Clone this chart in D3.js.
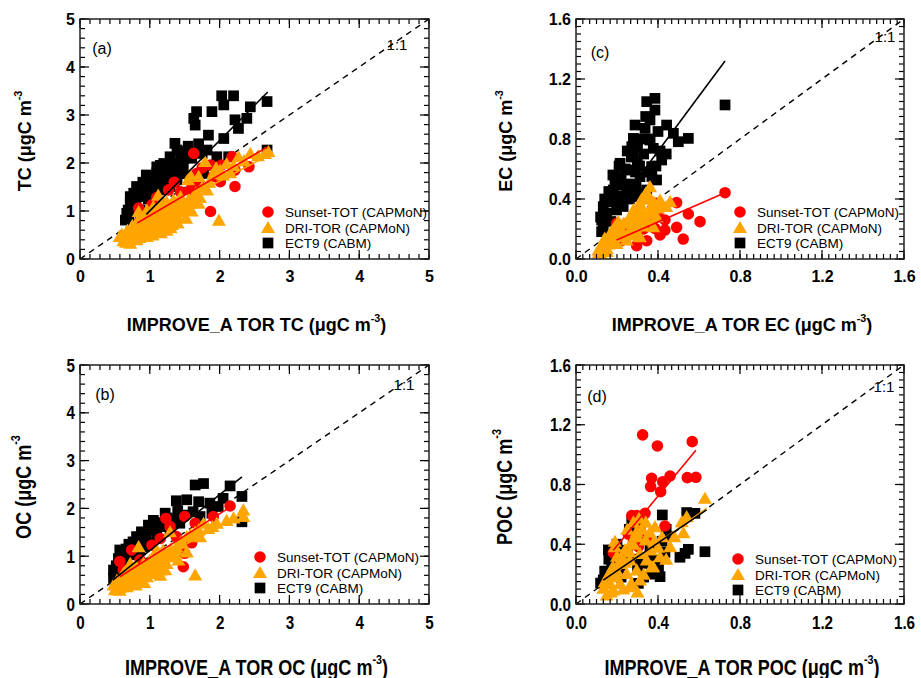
<!DOCTYPE html>
<html><head><meta charset="utf-8">
<script src="https://cdn.jsdelivr.net/npm/d3@7"></script>
<style>
body{margin:0;background:#fff;}
svg{display:block;}
</style></head>
<body>
<svg id="chart" width="921" height="678"></svg>
<script>
// ---------- DATA ----------
const seriesNames = ["Sunset-TOT (CAPMoN)", "DRI-TOR (CAPMoN)", "ECT9 (CABM)"];
const panelLetters = ["(a)", "(c)", "(b)", "(d)"];
const xTicksTC = [0,1,2,3,4,5];
const xTicksEC = [0,0.4,0.8,1.2,1.6];

// Panel (a) TC
const tcECT9 = [[2.68,3.28],[2.20,3.40],[2.03,3.40],[2.06,3.21],[2.44,3.17],[1.67,3.07],[1.89,3.07],[1.63,2.93],[1.65,2.79],[2.22,2.90],[2.39,2.93],[2.27,2.72],[1.84,2.58],[2.06,2.51],[1.36,2.41],[1.39,2.27],[1.53,2.24],[1.82,2.27],[1.96,2.13],[2.13,2.13],[2.68,2.27],[1.29,2.13],[1.44,2.06],[1.20,1.99],[1.10,1.92],[1.24,1.85],[1.44,1.78],[1.58,1.72],[1.77,1.78],[1.00,1.72],[1.15,1.72],[0.81,1.51],[0.96,1.51],[1.10,1.58],[0.77,1.37],[0.91,1.30],[1.05,1.40],[1.29,1.51],[0.72,1.16],[0.86,1.02],[0.67,0.95],[0.65,0.81],[0.69,1.02],[1.48,1.92],[1.34,1.99],[1.63,1.58],[1.20,1.44],[1.39,1.65],
  [0.70,0.88],[0.75,1.10],[0.80,1.25],[0.85,1.45],[0.90,1.60],[0.95,1.40],[1.00,1.55],[1.05,1.65],[1.10,1.80],[1.15,1.95],[1.25,1.70],[1.30,1.80],[1.35,1.60],[1.40,1.95],[1.50,2.10],[1.55,2.35],[1.60,2.10],[1.70,2.40],[1.75,2.20],[0.80,1.20],[0.88,1.35],[0.98,1.25],[1.08,1.30],[0.72,1.30],[0.95,1.75],[1.18,1.55],[1.12,1.48]];
const tcSunset = [[1.63,2.20],[2.18,2.13],[1.87,1.96],[2.03,1.96],[2.22,1.85],[2.42,1.92],[1.67,1.78],[1.70,1.58],[2.01,1.61],[2.22,1.51],[1.27,1.44],[1.44,1.40],[1.03,1.13],[1.17,1.16],[0.84,1.06],[1.67,1.23],[1.87,0.99],[0.86,0.81],[1.00,1.02],[1.44,1.19],[1.58,1.44],[1.91,1.72],[1.10,1.28],[1.35,1.60],[0.95,0.90],[1.75,1.90]];
const tcDRI = [[2.70,2.24],[2.65,2.20],[2.44,2.20],[2.27,2.13],[1.79,2.03],[2.10,1.99],[2.01,1.85],[1.91,1.78],[1.58,1.75],[1.70,1.72],[1.55,1.65],[1.82,1.44],[1.12,1.33],[1.70,1.16],[1.44,1.30],[1.34,1.23],[1.24,1.19],[1.15,1.16],[1.05,1.09],[0.96,1.02],[0.84,0.99],[1.99,0.81],[1.44,1.09],[1.34,1.02],[1.24,0.95],[1.15,0.88],[1.05,0.81],[0.96,0.74],[0.86,0.67],[0.77,0.60],[0.67,0.53],[0.65,0.43],[0.72,0.33],[0.81,0.40],[0.96,0.47],[1.10,0.60],[1.20,0.67],[1.29,0.74],[1.39,0.88],[1.48,1.02],[1.58,1.16],[1.00,0.60],[0.91,0.53],[1.24,0.60],[1.15,0.74],[1.34,0.81],[0.72,0.47],[0.81,0.53],[0.57,0.47],
  [0.62,0.38],[0.70,0.42],[0.78,0.46],[0.85,0.45],[0.90,0.62],[0.95,0.55],[1.02,0.68],[1.08,0.72],[1.12,0.66],[1.18,0.80],[1.22,0.85],[1.27,0.90],[1.32,0.72],[1.36,0.95],[1.42,0.98],[1.46,1.10],[1.52,1.08],[1.56,1.25],[1.62,1.30],[1.66,1.38],[1.75,1.50],[0.68,0.60],[0.75,0.70],[0.82,0.78],[0.88,0.85],[0.93,0.90],[1.00,0.85],[1.06,0.95],[1.12,1.00],[1.20,1.05],[1.28,1.10],[1.35,1.15],[0.60,0.52],[0.66,0.35],[0.74,0.55],[0.98,0.65],[1.04,0.50],[1.16,0.55],[1.30,0.65],[1.40,0.75],[1.52,0.85],[1.60,1.00],[1.72,1.28],[1.85,1.60],[2.05,1.75],[2.20,1.95],[2.35,2.05],[2.55,2.15],[1.95,1.90],[2.15,1.80]];
const tcFitECT9 = [[0.95,0.93],[2.69,3.48]];
const tcFitSunset = [[0.82,0.75],[2.68,2.33]];
const tcFitDRI = [[0.60,0.55],[2.75,2.20]];

// Panel (c) EC
const ecECT9 = [[0.727,1.027],[0.385,1.071],[0.345,1.049],[0.385,0.993],[0.361,0.927],[0.288,0.893],[0.337,0.871],[0.442,0.893],[0.499,0.782],[0.548,0.804],[0.475,0.838],[0.361,0.793],[0.280,0.804],[0.272,0.749],[0.377,0.738],[0.418,0.660],[0.280,0.682],[0.215,0.638],[0.299,0.649],[0.369,0.616],[0.393,0.527],[0.263,0.593],[0.312,0.549],[0.215,0.527],[0.293,0.493],[0.182,0.460],[0.247,0.438],[0.163,0.393],[0.133,0.349],[0.150,0.304],[0.125,0.260],[0.133,0.216],[0.125,0.182],[0.215,0.371],[0.280,0.416],[0.198,0.327],[0.345,0.460],[0.231,0.493],
  [0.14,0.30],[0.16,0.45],[0.18,0.38],[0.20,0.42],[0.22,0.55],[0.24,0.60],[0.26,0.50],[0.27,0.68],[0.29,0.58],[0.31,0.62],[0.33,0.70],[0.35,0.58],[0.37,0.55],[0.39,0.62],[0.41,0.72],[0.32,0.80],[0.30,0.75],[0.34,0.95],[0.40,0.85],[0.44,0.70],[0.17,0.25],[0.19,0.50],[0.23,0.35],[0.26,0.40],[0.28,0.48],[0.31,0.44],[0.21,0.62],[0.25,0.72],[0.36,0.80],[0.14,0.40],[0.12,0.28],[0.18,0.56]];
const ecSunset = [[0.727,0.442],[0.491,0.376],[0.548,0.300],[0.605,0.249],[0.434,0.260],[0.491,0.211],[0.434,0.193],[0.523,0.133],[0.385,0.204],[0.345,0.122],[0.296,0.089],[0.198,0.238],[0.393,0.371],[0.361,0.238],[0.255,0.182],[0.402,0.282],[0.30,0.15],[0.22,0.12],[0.33,0.20],[0.41,0.16]];
const ecDRI = [[0.361,0.482],[0.353,0.427],[0.459,0.382],[0.410,0.393],[0.312,0.371],[0.377,0.349],[0.280,0.327],[0.328,0.304],[0.345,0.260],[0.263,0.282],[0.231,0.238],[0.206,0.249],[0.182,0.193],[0.215,0.171],[0.166,0.149],[0.133,0.104],[0.109,0.060],[0.150,0.071],[0.263,0.193],[0.296,0.238],[0.393,0.282],[0.377,0.216],[0.312,0.149],[0.247,0.127],[0.198,0.104],[0.125,0.027],[0.288,0.216],[0.361,0.327],
  [0.11,0.04],[0.13,0.08],[0.14,0.14],[0.16,0.10],[0.18,0.13],[0.20,0.16],[0.22,0.20],[0.24,0.24],[0.26,0.26],[0.28,0.30],[0.30,0.34],[0.32,0.40],[0.34,0.44],[0.36,0.40],[0.38,0.38],[0.40,0.34],[0.27,0.16],[0.23,0.15],[0.29,0.19],[0.33,0.22],[0.35,0.30],[0.31,0.27],[0.19,0.22],[0.17,0.18],[0.15,0.05],[0.42,0.36],[0.44,0.35]];
const ecFitECT9 = [[0.20,0.35],[0.727,1.32]];
const ecFitSunset = [[0.198,0.127],[0.727,0.442]];
const ecFitDRI = [[0.12,0.08],[0.40,0.40]];

// Panel (b) OC
const ocECT9 = [[1.77,2.52],[1.65,2.49],[2.15,2.47],[2.32,2.25],[2.05,2.21],[1.38,2.16],[1.53,2.18],[1.70,2.14],[1.86,2.11],[1.98,2.04],[2.32,1.72],[1.22,1.90],[1.48,1.86],[1.62,1.93],[0.98,1.65],[1.15,1.62],[0.88,1.51],[1.10,1.41],[0.81,1.41],[0.57,1.13],[0.72,1.03],[0.62,0.96],[0.86,1.13],[1.00,1.27],[0.48,0.71],[0.48,0.54],[1.29,1.55],[1.43,1.69],[1.72,1.83],[1.89,1.90],
  [0.52,0.80],[0.55,0.95],[0.60,1.05],[0.66,1.15],[0.70,1.25],[0.76,1.30],[0.82,1.20],[0.90,1.35],[0.95,1.45],[1.02,1.55],[1.08,1.60],[1.05,1.75],[1.18,1.70],[1.25,1.80],[1.35,1.75],[1.40,1.95],[0.64,0.80],[0.58,0.70],[0.75,1.05],[0.92,1.20]];
const ocSunset = [[2.15,2.05],[1.23,1.79],[1.50,1.83],[1.29,1.62],[1.65,1.69],[1.15,1.37],[1.60,1.28],[1.50,1.06],[1.48,0.78],[0.57,0.89],[0.74,1.13],[1.03,1.23],[1.91,1.83],[1.38,1.41],[0.86,0.92],[0.62,0.71]];
const ocDRI = [[2.34,1.97],[2.34,1.83],[1.96,1.69],[1.77,1.69],[1.84,1.58],[1.65,1.51],[1.72,1.41],[1.29,1.51],[0.84,1.20],[1.53,1.09],[1.65,0.61],[1.41,0.92],[1.38,1.13],[1.19,1.13],[1.10,0.99],[1.00,0.92],[0.91,0.85],[0.81,0.78],[0.72,0.71],[0.62,0.64],[0.53,0.50],[0.48,0.40],[0.57,0.29],[0.67,0.36],[0.76,0.43],[0.86,0.50],[0.96,0.57],[1.05,0.64],[1.15,0.71],[1.24,0.85],[1.34,0.99],[0.96,0.78],[1.10,0.78],[1.19,0.92],[0.62,0.43],[1.10,1.13],[1.43,1.27],[1.53,1.41],
  [0.50,0.30],[0.55,0.40],[0.60,0.50],[0.66,0.55],[0.70,0.45],[0.75,0.60],[0.80,0.65],[0.85,0.70],[0.90,0.62],[0.95,0.68],[1.00,0.75],[1.05,0.85],[1.12,0.88],[1.18,1.00],[1.25,1.05],[1.30,1.15],[1.38,1.20],[1.45,1.30],[1.58,1.45],[1.70,1.55],[1.90,1.62],[2.10,1.75],[2.20,1.80],[0.72,0.85],[0.65,0.68],[1.15,0.60],[1.22,0.72],[0.58,0.35],[0.80,0.40],[0.92,0.45]];
const ocFitECT9 = [[0.47,0.50],[2.32,2.66]];
const ocFitSunset = [[0.57,0.57],[2.10,1.98]];
const ocFitDRI = [[0.50,0.45],[2.34,1.90]];

// Panel (d) POC
const pocSunset = [[0.325,1.132],[0.397,1.058],[0.567,1.087],[0.369,0.842],[0.459,0.857],[0.423,0.819],[0.543,0.846],[0.585,0.848],[0.364,0.786],[0.413,0.752],[0.272,0.592],[0.296,0.592],[0.337,0.607],[0.434,0.522],[0.255,0.467],[0.312,0.496],[0.182,0.344],[0.304,0.384],[0.215,0.295],[0.345,0.451],[0.280,0.417]];
const pocECT9 = [[0.421,0.596],[0.540,0.612],[0.580,0.607],[0.272,0.551],[0.629,0.350],[0.548,0.366],[0.532,0.339],[0.507,0.313],[0.434,0.346],[0.459,0.451],[0.402,0.228],[0.410,0.183],[0.304,0.138],[0.158,0.362],[0.174,0.272],[0.133,0.161],[0.345,0.429],[0.377,0.295],[0.231,0.317],[0.328,0.272],[0.215,0.228],[0.361,0.362],
  [0.16,0.30],[0.18,0.35],[0.20,0.40],[0.25,0.36],[0.28,0.30],[0.30,0.24],[0.33,0.18],[0.37,0.20],[0.40,0.26],[0.42,0.42],[0.44,0.50],[0.26,0.50],[0.32,0.55],[0.12,0.14],[0.14,0.22],[0.22,0.18]];
const pocDRI = [[0.629,0.708],[0.524,0.478],[0.516,0.551],[0.540,0.585],[0.307,0.574],[0.296,0.484],[0.385,0.518],[0.190,0.384],[0.272,0.417],[0.239,0.362],[0.340,0.429],[0.364,0.362],[0.312,0.339],[0.263,0.295],[0.215,0.272],[0.345,0.295],[0.377,0.250],[0.296,0.228],[0.247,0.205],[0.198,0.183],[0.166,0.138],[0.133,0.105],[0.150,0.060],[0.182,0.094],[0.215,0.138],[0.312,0.161],[0.263,0.116],[0.410,0.317],[0.459,0.384],
  [0.14,0.15],[0.16,0.20],[0.18,0.25],[0.20,0.22],[0.22,0.30],[0.24,0.28],[0.26,0.35],[0.28,0.40],[0.30,0.45],[0.32,0.50],[0.34,0.55],[0.36,0.48],[0.38,0.42],[0.40,0.38],[0.42,0.45],[0.25,0.50],[0.28,0.55],[0.20,0.32],[0.23,0.10],[0.27,0.14],[0.33,0.20],[0.37,0.25],[0.44,0.30],[0.48,0.45],[0.17,0.08],[0.30,0.08],[0.19,0.42]];
const pocFitSunset = [[0.182,0.36],[0.585,1.03]];
const pocFitECT9 = [[0.133,0.16],[0.637,0.63]];
const pocFitDRI = [[0.133,0.15],[0.637,0.64]];

// ---------- LAYOUT ----------
const COL = {ect9:"#000000", sunset:"#ff0000", dri:"#ffa500"};
const FONT = "'Liberation Sans', Arial, sans-serif";

const panels = [
  {label:panelLetters[0], L:80, R:429, T:19, B:259, max:5, xticks:xTicksTC, yticks:xTicksTC, fmt:d3.format("d"),
   xMinor:1/7, yMinor:0.2, narrow:false, var:"TC",
   ect9:tcECT9, sunset:tcSunset, dri:tcDRI, fits:[tcFitECT9, tcFitSunset, tcFitDRI],
   ytitleY:141, ytitleX:31, xtitleY:331, legX:268, legY:212, oneX:397, oneY:50, letX:102, letY:54},
  {label:panelLetters[1], L:576, R:904, T:19, B:259, max:1.6, xticks:xTicksEC, yticks:xTicksEC, fmt:d3.format(".1f"),
   xMinor:0.4/12, yMinor:0.05, narrow:false, var:"EC",
   ect9:ecECT9, sunset:ecSunset, dri:ecDRI, fits:[ecFitECT9, ecFitSunset, ecFitDRI],
   ytitleY:141, ytitleX:512, xtitleY:331, legX:740, legY:212, oneX:885, oneY:42, letX:600, letY:58},
  {label:panelLetters[2], L:80, R:429, T:365, B:604, max:5, xticks:xTicksTC, yticks:xTicksTC, fmt:d3.format("d"),
   xMinor:1/7, yMinor:0.2, narrow:true, var:"OC",
   ect9:ocECT9, sunset:ocSunset, dri:ocDRI, fits:[ocFitECT9, ocFitSunset, ocFitDRI],
   ytitleY:487, ytitleX:31, xtitleY:675, legX:260, legY:557, oneX:404, oneY:390, letX:105, letY:400},
  {label:panelLetters[3], L:576, R:904, T:365, B:604, max:1.6, xticks:xTicksEC, yticks:xTicksEC, fmt:d3.format(".1f"),
   xMinor:0.4/12, yMinor:0.05, narrow:true, var:"POC",
   ect9:pocECT9, sunset:pocSunset, dri:pocDRI, fits:[pocFitECT9, pocFitSunset, pocFitDRI],
   ytitleY:487, ytitleX:512, xtitleY:675, legX:738, legY:559, oneX:884, oneY:392, letX:597, letY:402}
];

const svg = d3.select("#chart");
const sqSym = d3.symbol().type(d3.symbolSquare).size(115);
const ciSym = d3.symbol().type(d3.symbolCircle).size(105);
const trSym = d3.symbol().type(d3.symbolTriangle).size(85);

panels.forEach((p, i) => {
  const x = d3.scaleLinear().domain([0, p.max]).range([p.L, p.R]);
  const y = d3.scaleLinear().domain([0, p.max]).range([p.B, p.T]);
  const g = svg.append("g");
  const sx = p.narrow ? 0.8 : 1;
  const clipId = "clip" + i;
  g.append("clipPath").attr("id", clipId).append("rect")
    .attr("x", p.L).attr("y", p.T).attr("width", p.R - p.L).attr("height", p.B - p.T);

  // 1:1 line
  g.append("line").attr("clip-path", `url(#${clipId})`)
    .attr("x1", x(0)).attr("y1", y(0)).attr("x2", x(p.max)).attr("y2", y(p.max))
    .attr("stroke", "#000").attr("stroke-width", 1.4).attr("stroke-dasharray", "6,5");

  // points
  const pts = g.append("g").attr("clip-path", `url(#${clipId})`);
  pts.selectAll(".sq").data(p.ect9).join("path").attr("d", sqSym)
    .attr("transform", d => `translate(${x(d[0])},${y(d[1])})`).attr("fill", COL.ect9);
  pts.selectAll(".ci").data(p.sunset).join("path").attr("d", ciSym)
    .attr("transform", d => `translate(${x(d[0])},${y(d[1])})`).attr("fill", COL.sunset);
  pts.selectAll(".tr").data(p.dri).join("path").attr("d", trSym)
    .attr("transform", d => `translate(${x(d[0])},${y(d[1])+1.5})`).attr("fill", COL.dri);

  // fit lines
  const line = d3.line().x(d => x(d[0])).y(d => y(d[1]));
  const fitCols = [COL.ect9, COL.sunset, COL.dri];
  const fitOrder = (i === 3) ? [1, 2, 0] : [2, 1, 0];
  fitOrder.forEach(k => {
    g.append("path").datum(p.fits[k]).attr("d", line).attr("fill", "none")
      .attr("stroke", fitCols[k]).attr("stroke-width", 1.6);
  });

  // ticks (inward, mirrored)
  const minorX = d3.range(0, p.max + 1e-9, p.xMinor);
  const minorY = d3.range(0, p.max + 1e-9, p.yMinor);
  const tickG = g.append("g").attr("stroke", "#000").attr("stroke-width", 1.2);
  minorX.forEach(v => {
    tickG.append("line").attr("x1", x(v)).attr("x2", x(v)).attr("y1", p.B).attr("y2", p.B - 5);
    tickG.append("line").attr("x1", x(v)).attr("x2", x(v)).attr("y1", p.T).attr("y2", p.T + 5);
  });
  minorY.forEach(v => {
    tickG.append("line").attr("y1", y(v)).attr("y2", y(v)).attr("x1", p.L).attr("x2", p.L + 5);
    tickG.append("line").attr("y1", y(v)).attr("y2", y(v)).attr("x1", p.R).attr("x2", p.R - 5);
  });
  p.xticks.forEach(v => {
    tickG.append("line").attr("x1", x(v)).attr("x2", x(v)).attr("y1", p.B).attr("y2", p.B - 9);
    tickG.append("line").attr("x1", x(v)).attr("x2", x(v)).attr("y1", p.T).attr("y2", p.T + 9);
  });
  p.yticks.forEach(v => {
    tickG.append("line").attr("y1", y(v)).attr("y2", y(v)).attr("x1", p.L).attr("x2", p.L + 9);
    tickG.append("line").attr("y1", y(v)).attr("y2", y(v)).attr("x1", p.R).attr("x2", p.R - 9);
  });
  g.append("rect").attr("x", p.L).attr("y", p.T).attr("width", p.R - p.L).attr("height", p.B - p.T)
    .attr("fill", "none").attr("stroke", "#222").attr("stroke-width", 1.5);

  // tick labels via d3 axes (lines hidden)
  const tickSize = p.narrow ? 19 : 16;
  const xa = g.append("g").attr("transform", `translate(0,${p.B})`)
    .call(d3.axisBottom(x).tickValues(p.xticks).tickFormat(p.fmt).tickSize(0).tickPadding(9));
  const ya = g.append("g").attr("transform", `translate(${p.L},0)`)
    .call(d3.axisLeft(y).tickValues(p.yticks).tickFormat(p.fmt).tickSize(0).tickPadding(5));
  [xa, ya].forEach(a => {
    a.select(".domain").remove();
    a.selectAll("text").attr("font-family", FONT).attr("font-weight", "bold")
      .attr("font-size", tickSize).attr("fill", "#000").attr("transform", `scale(${sx},1)`);
  });
  xa.selectAll("text").attr("dy", "0.85em");
  ya.selectAll("text").attr("x", -5 / sx);

  // axis titles
  const tSize = p.narrow ? 22 : 18;
  const xt = g.append("text").attr("transform", `translate(${(p.L + p.R) / 2 + 2},${p.xtitleY}) scale(${p.narrow ? 0.82 : 1},1)`)
    .attr("text-anchor", "middle").attr("font-family", FONT).attr("font-weight", "bold")
    .attr("font-size", tSize);
  xt.append("tspan").text(`IMPROVE_A TOR ${p.var} (\u03bcgC m`);
  xt.append("tspan").text("-3").attr("font-size", tSize * 0.6).attr("dy", -tSize * 0.5);
  xt.append("tspan").text(")").attr("dy", tSize * 0.5);

  const yt = g.append("text").attr("transform", `translate(${p.ytitleX},${p.ytitleY}) rotate(-90) scale(${p.narrow ? 0.82 : 1},1)`)
    .attr("text-anchor", "middle").attr("font-family", FONT).attr("font-weight", "bold")
    .attr("font-size", tSize);
  yt.append("tspan").text(`${p.var} (\u03bcgC m`);
  yt.append("tspan").text("-3").attr("font-size", tSize * 0.6).attr("dy", -tSize * 0.5);

  // panel letter
  g.append("text").attr("x", p.letX).attr("y", p.letY).attr("text-anchor", "middle")
    .attr("font-family", FONT).attr("font-size", 16).text(p.label);
  // 1:1 label
  g.append("text").attr("x", p.oneX).attr("y", p.oneY).attr("text-anchor", "middle")
    .attr("font-family", FONT).attr("font-size", 15).text("1:1");

  // legend
  const lg = g.append("g");
  const legSyms = [[ciSym, COL.sunset], [trSym, COL.dri], [sqSym, COL.ect9]];
  const rowH = 15.5;
  seriesNames.forEach((name, k) => {
    const yy = p.legY + k * rowH;
    lg.append("path").attr("d", legSyms[k][0])
      .attr("transform", `translate(${p.legX},${yy + (k === 1 ? 1.5 : 0)})`).attr("fill", legSyms[k][1]);
    lg.append("text").attr("x", p.legX + 17).attr("y", yy + 5)
      .attr("font-family", FONT).attr("font-size", 13.5).text(name);
  });
});
</script>
</body></html>
